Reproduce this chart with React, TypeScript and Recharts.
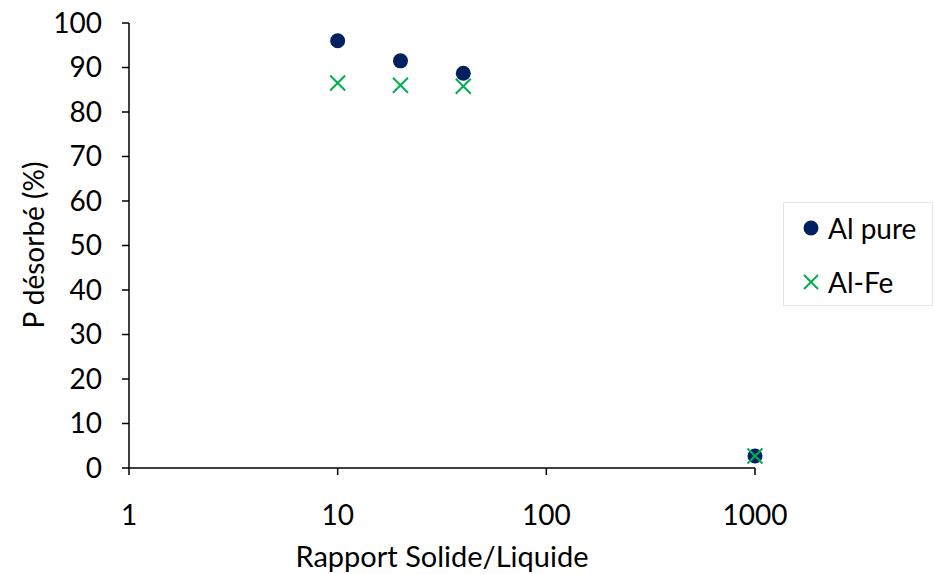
import React from 'react';
import {
  ScatterChart,
  Scatter,
  XAxis,
  YAxis,
  Legend,
  Label,
} from 'recharts';

const ratios = [10, 20, 40, 1000];
const alPure = [96, 91.5, 88.7, 2.7];
const alFe = [86.5, 86, 85.8, 2.7];
const xTicks = [1, 10, 100, 1000];
const yTicks = [0, 10, 20, 30, 40, 50, 60, 70, 80, 90, 100];

const seriesNames = ['Al pure', 'Al-Fe'];

const alPureData = ratios.map((x, i) => ({ x, y: alPure[i] }));
const alFeData = ratios.map((x, i) => ({ x, y: alFe[i] }));

const FONT = 'Lato, "Open Sans", sans-serif';
const FS = 28;
const NAVY = '#002060';
const GREEN = '#00B050';

const Dot = (props: any) => {
  const { cx, cy } = props;
  return <circle cx={cx} cy={cy} r={7.5} fill={NAVY} />;
};

const Cross = (props: any) => {
  const { cx, cy } = props;
  const h = 7.5;
  return (
    <g stroke={GREEN} strokeWidth={2}>
      <line x1={cx - h} y1={cy - h} x2={cx + h} y2={cy + h} />
      <line x1={cx - h} y1={cy + h} x2={cx + h} y2={cy - h} />
    </g>
  );
};

const LegendBox = () => (
  <div
    style={{
      width: 150,
      height: 104,
      border: '1px solid #e6e6e6',
      boxSizing: 'border-box',
      fontFamily: FONT,
      fontSize: FS,
      color: '#000',
      position: 'relative',
    }}
  >
    <svg width={40} height={104} style={{ position: 'absolute', left: 0, top: 0 }}>
      <circle cx={27} cy={25} r={7.5} fill={NAVY} />
      <g stroke={GREEN} strokeWidth={2}>
        <line x1={20} y1={72} x2={34} y2={86} />
        <line x1={20} y1={86} x2={34} y2={72} />
      </g>
    </svg>
    <div style={{ position: 'absolute', left: 44, top: 25, transform: 'translateY(-50%)', whiteSpace: 'nowrap' }}>
      {seriesNames[0]}
    </div>
    <div style={{ position: 'absolute', left: 44, top: 79, transform: 'translateY(-50%)', whiteSpace: 'nowrap' }}>
      {seriesNames[1]}
    </div>
  </div>
);

const tickStyle = { fill: '#000', fontSize: FS, fontFamily: FONT };

export default function App() {
  return (
    <div style={{ position: 'absolute', left: 0, top: 0, width: 935, height: 574, background: '#fff' }}>
      <ScatterChart
        width={935}
        height={574}
        margin={{ top: 23, right: 180, bottom: 26, left: 49 }}
      >
        <XAxis
          type="number"
          dataKey="x"
          scale="log"
          domain={[1, 1000]}
          ticks={xTicks}
          height={80}
          axisLine={{ stroke: '#000', strokeWidth: 1.5 }}
          tickLine={{ stroke: '#000', strokeWidth: 1.5 }}
          tickSize={7}
          tickMargin={30}
          tick={tickStyle}
        >
          <Label
            content={() => (
              <text
                x={442}
                y={555}
                textAnchor="middle"
                dominantBaseline="central"
                fill="#000"
                fontSize={29}
                fontFamily={FONT}
              >
                Rapport Solide/Liquide
              </text>
            )}
          />
        </XAxis>
        <YAxis
          type="number"
          dataKey="y"
          domain={[0, 100]}
          ticks={yTicks}
          width={80}
          axisLine={{ stroke: '#000', strokeWidth: 1.5 }}
          tickLine={{ stroke: '#000', strokeWidth: 1.5 }}
          tickSize={7}
          tickMargin={20}
          tick={tickStyle}
        >
          <Label
            content={() => (
              <text
                x={33}
                y={245}
                transform="rotate(-90 33 245)"
                textAnchor="middle"
                dominantBaseline="central"
                fill="#000"
                fontSize={FS}
                fontFamily={FONT}
              >
                P désorbé (%)
              </text>
            )}
          />
        </YAxis>
        <Legend
          layout="horizontal"
          verticalAlign="middle"
          align="center"
          content={() => <LegendBox />}
          wrapperStyle={{ left: 783, top: 202, width: 150, height: 104 }}
        />
        <Scatter
          name={seriesNames[0]}
          data={alPureData}
          shape={Dot}
          isAnimationActive={false}
        />
        <Scatter
          name={seriesNames[1]}
          data={alFeData}
          shape={Cross}
          isAnimationActive={false}
        />
      </ScatterChart>
    </div>
  );
}
